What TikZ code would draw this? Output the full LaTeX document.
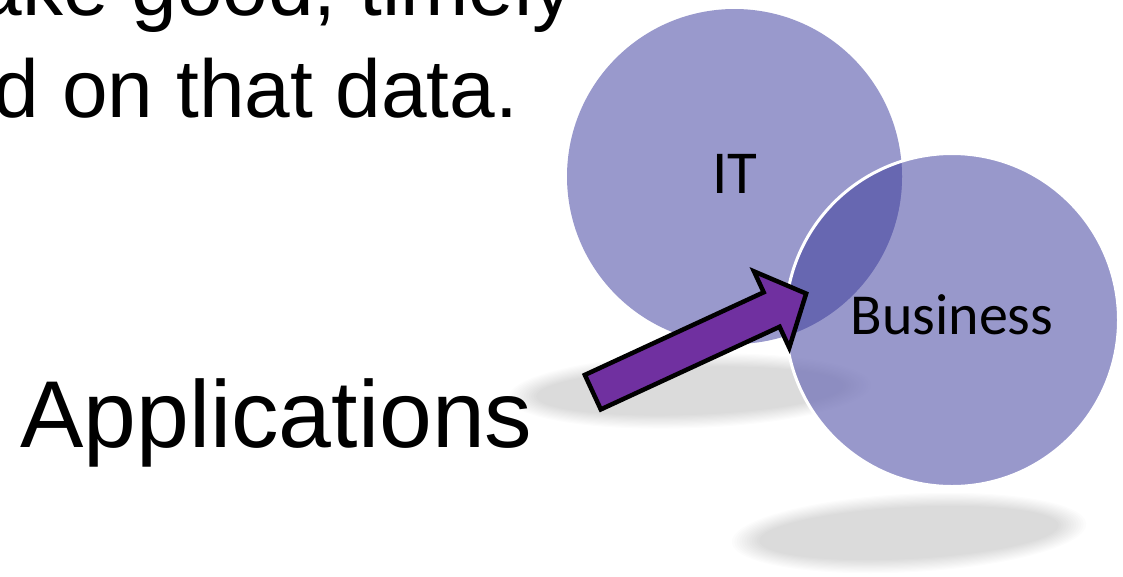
\documentclass[tikz,border=0pt]{standalone}
\usepackage{fontspec}
\setmainfont{Liberation Sans}
\newfontfamily\lblfont{Carlito}
\definecolor{circ}{RGB}{153,153,204}
\definecolor{circB}{RGB}{109,109,182}
\definecolor{ovl}{RGB}{103,103,177}
\definecolor{arrowpurple}{RGB}{112,48,160}
\tikzset{
  bigtext/.style={inner sep=0pt, font=\fontsize{82}{98}\selectfont},
  apptext/.style={inner sep=0pt, font=\fontsize{95}{110}\selectfont},
  lbl/.style={inner sep=0pt, font=\lblfont\fontsize{58}{66}\selectfont},
  disc/.style={circle, inner sep=0pt, minimum size=334pt},
  blockarrow/.style={fill=arrowpurple, draw=black, line width=4.5pt, line join=miter},
  shadowlayer/.style={fill=black, fill opacity=0.0102, draw=none}
}
\begin{document}
\begin{tikzpicture}[x=1pt, y=-1pt]
\useasboundingbox (0,0) rectangle (1123,576);
\clip (0,0) rectangle (1123,576);
\fill[white] (0,0) rectangle (1123,576);
% shadows
\foreach \i in {0,...,11} {
  \fill[shadowlayer, rotate around={2:(690,391)}] (690,391) ellipse [x radius={154pt+2.5pt*\i}, y radius={24pt+1.2pt*\i}];
  \fill[shadowlayer, rotate around={3:(909,533)}] (909,533) ellipse [x radius={150pt+2.5pt*\i}, y radius={26pt+1.2pt*\i}];
}
% top text
\node[bigtext, anchor=base east] (line1) at (574,15) {make good, timely};
\node[bigtext, anchor=base east] (line2) at (518.5,117) {based on that data.};
% circles
\coordinate (cIT) at (734.5,176.5);
\coordinate (cB) at (952,320);
\node[disc, fill=circ, minimum size=335pt] (IT) at (cIT) {};
\node[disc, fill=circB, fill opacity=0.7, minimum size=333pt] (Bus) at (cB) {};
\begin{scope}
  \clip (cIT) circle [radius=167.5pt];
  \fill[ovl] (cB) circle [radius=166.5pt];
\end{scope}
\draw[white, line width=3pt] (cB) circle [radius=166.5pt];
\node[lbl, anchor=base, font=\lblfont\fontsize{61}{70}\selectfont] (ITlabel) at (735,193) {IT};
\node[lbl, anchor=base] (Buslabel) at (952,334) {Business};
% arrow
\coordinate (arrowtail) at (591,393);
\begin{scope}[shift={(arrowtail)}, rotate=24.8]
  \draw[blockarrow] (2,19) -- (199,19) -- (199,42) -- (237,0) -- (199,-42) -- (199,-19) -- (2,-19) -- cycle;
\end{scope}
% label
\node[apptext, anchor=base west] (apps) at (20,447) {Applications};
\end{tikzpicture}
\end{document}
